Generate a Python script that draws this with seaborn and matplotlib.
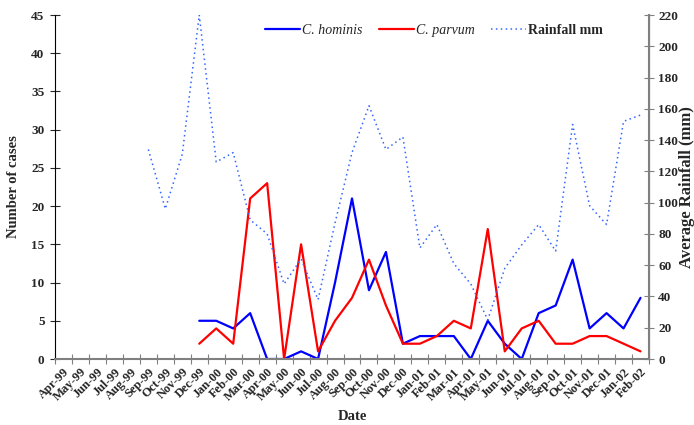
import numpy as np
import pandas as pd
import seaborn as sb
import matplotlib.pyplot as plt
import matplotlib.transforms as mtrans
from matplotlib.lines import Line2D

# month labels on the category axis
months = ['Apr-99', 'May-99', 'Jun-99', 'Jul-99', 'Aug-99', 'Sep-99', 'Oct-99',
          'Nov-99', 'Dec-99', 'Jan-00', 'Feb-00', 'Mar-00', 'Apr-00', 'May-00',
          'Jun-00', 'Jul-00', 'Aug-00', 'Sep-00', 'Oct-00', 'Nov-00', 'Dec-00',
          'Jan-01', 'Feb-01', 'Mar-01', 'Apr-01', 'May-01', 'Jun-01', 'Jul-01',
          'Aug-01', 'Sep-01', 'Oct-01', 'Nov-01', 'Dec-01', 'Jan-02', 'Feb-02']

# cases from Dec-99 onward
hominis = [5, 5, 4, 6, 0, 0, 1, 0, 10, 21, 9, 14, 2, 3, 3, 3, 0, 5, 2, 0,
           6, 7, 13, 4, 6, 4, 8]
parvum = [2, 4, 2, 21, 23, 0, 15, 1, 5, 8, 13, 7, 2, 2, 3, 5, 4, 17, 1, 4,
          5, 2, 2, 3, 3, 2, 1]
# rainfall from Sep-99 onward
rainfall = [134, 96, 131, 220, 126, 132, 89, 80, 48, 64, 38, 87, 132, 162, 134,
            142, 71, 86, 61, 48, 25, 58, 73, 86, 69, 150, 98, 86, 152, 156]

n = len(months)
cases_df = pd.DataFrame({'idx': np.arange(n - len(hominis), n),
                         'hominis': hominis, 'parvum': parvum})
rain_df = pd.DataFrame({'idx': np.arange(n - len(rainfall), n), 'rain': rainfall})

sb.set_style('ticks')
plt.rcParams['font.family'] = ['Liberation Serif', 'DejaVu Serif']

fig = plt.figure(figsize=(6.94, 4.25), dpi=100)
ax = fig.add_axes([55 / 694, 1 - 359 / 425, 594 / 694, 344 / 425])
ax2 = ax.twinx()

blue = '#0000ff'
red = '#ff0000'
rain_col = '#3366ff'
dots = (0, (1, 2.2))

sb.lineplot(data=cases_df, x='idx', y='hominis', color=blue, lw=1.6, ax=ax, errorbar=None)
sb.lineplot(data=cases_df, x='idx', y='parvum', color=red, lw=1.6, ax=ax, errorbar=None)
sb.lineplot(data=rain_df, x='idx', y='rain', color=rain_col, lw=1.1, ax=ax2,
            errorbar=None, linestyle=dots)

# axes limits
ax.set_xlim(-0.5, n - 0.5)
ax.set_ylim(0, 45)
ax2.set_ylim(0, 220)

# category axis: ticks between months, labels in the middle
ax.set_xticks(np.arange(-0.5, n, 1.0))
ax.set_xticklabels([])
ax.set_xticks(np.arange(n), minor=True)
ax.set_xticklabels(months, minor=True, rotation=45, ha='right', va='top',
                   rotation_mode='anchor', fontsize=9, fontweight='bold')
shift = mtrans.ScaledTranslation(9 / 100, 0, fig.dpi_scale_trans)
for t in ax.get_xticklabels(minor=True):
    t.set_transform(t.get_transform() + shift)
ax.tick_params(axis='x', which='minor', length=0, pad=5)
ax.tick_params(axis='x', which='major', direction='inout', length=7, color='#808080')

ax.set_yticks(np.arange(0, 46, 5))
ax.tick_params(axis='y', direction='inout', length=7, labelsize=9.5, pad=4)
ax2.set_yticks(np.arange(0, 221, 20))
ax2.tick_params(axis='y', direction='inout', length=7, labelsize=9.5, pad=3, color='#808080')
for t in ax.get_yticklabels() + ax2.get_yticklabels():
    t.set_fontweight('bold')

for a in (ax, ax2):
    a.spines['top'].set_visible(False)
ax.spines['left'].set_color('black')
ax.spines['bottom'].set_color('#808080')
ax.spines['bottom'].set_linewidth(1.5)
ax2.spines['right'].set_color('#808080')
ax2.spines['right'].set_linewidth(1.5)
ax2.spines['left'].set_visible(False)
ax2.spines['bottom'].set_visible(False)

ax.set_xlabel('Date', fontsize=10.5, fontweight='bold', labelpad=5)
ax.set_ylabel('Number of cases', fontsize=10.5, fontweight='bold', labelpad=8)
ax2.set_ylabel('Average Rainfall (mm)', fontsize=12, fontweight='bold', labelpad=1)

handles = [Line2D([], [], color=blue, lw=1.6),
           Line2D([], [], color=red, lw=1.6),
           Line2D([], [], color=rain_col, lw=1.1, linestyle=dots)]
leg = ax2.legend(handles, ['C. hominis', 'C. parvum', 'Rainfall mm'], ncol=3,
                 loc='center', bbox_to_anchor=(0.638, 0.956), frameon=False,
                 fontsize=10, handlelength=2.5, handletextpad=0.15, columnspacing=1.2)
texts = leg.get_texts()
texts[0].set_fontstyle('italic')
texts[1].set_fontstyle('italic')
texts[2].set_fontweight('bold')

fig.savefig('out.png', dpi=100)
